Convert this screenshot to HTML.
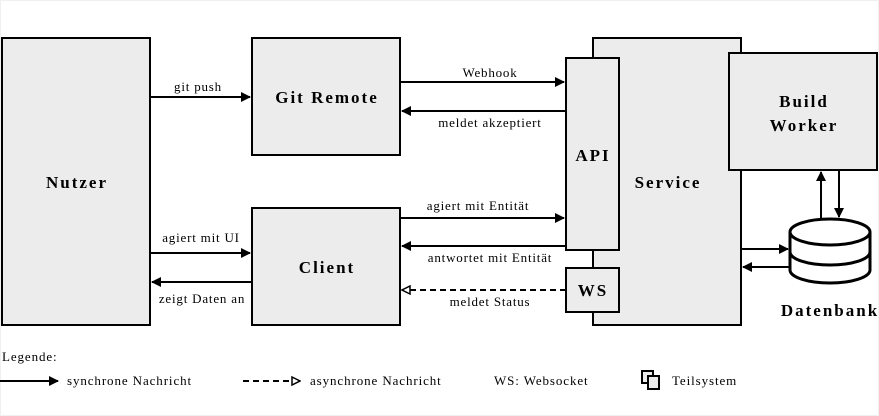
<!DOCTYPE html>
<html><head><meta charset="utf-8"><style>
html,body{margin:0;padding:0;background:#fff;}
svg{display:block;font-family:"Liberation Serif",serif;}
.b{fill:#ececec;stroke:#000;stroke-width:2;}
.t{font-weight:bold;font-size:17px;letter-spacing:2px;text-anchor:middle;}
.l{font-size:13px;letter-spacing:0.8px;text-anchor:middle;}
.g{font-size:13px;letter-spacing:0.9px;}
.a{stroke:#000;stroke-width:2;fill:none;}
</style></head><body>
<svg width="879" height="416" viewBox="0 0 879 416">
<defs>
<marker id="ar" markerWidth="10" markerHeight="10" refX="9" refY="5" orient="auto" markerUnits="userSpaceOnUse"><path d="M0,0 L10,5 L0,10 z" fill="#000"/></marker>
<marker id="ao" markerWidth="10" markerHeight="10" refX="9" refY="5" orient="auto" markerUnits="userSpaceOnUse"><path d="M1,1 L9,5 L1,9 z" fill="#fff" stroke="#000" stroke-width="1.5"/></marker>
</defs>
<rect x="0.5" y="0.5" width="878" height="415" fill="none" stroke="#f0f0f0"/>
<rect class="b" x="2" y="38" width="148" height="287"/>
<text class="t" x="77" y="188">Nutzer</text>
<rect class="b" x="252" y="38" width="148" height="117"/>
<text class="t" x="327" y="103">Git Remote</text>
<rect class="b" x="252" y="208" width="148" height="117"/>
<text class="t" x="327" y="273">Client</text>
<rect class="b" x="593" y="38" width="148" height="287"/>
<text class="t" x="668" y="188">Service</text>
<rect class="b" x="566" y="58" width="53" height="192"/>
<text class="t" x="593" y="161">API</text>
<rect class="b" x="566" y="268" width="53" height="44"/>
<text class="t" x="593" y="296">WS</text>
<rect class="b" x="729" y="53" width="148" height="117"/>
<text class="t" x="804" y="107">Build</text>
<text class="t" x="804" y="131">Worker</text>
<g stroke="#000" stroke-width="3" fill="#fff">
<path d="M790,232 L790,270 A40,13 0 0 0 870,270 L870,232"/>
<path d="M790,252 A40,13 0 0 0 870,252" fill="none"/>
<ellipse cx="830" cy="232" rx="40" ry="13"/>
</g>
<text class="t" x="830" y="316">Datenbank</text>
<line class="a" x1="150" y1="97" x2="250" y2="97" marker-end="url(#ar)"/>
<text class="l" x="198" y="91">git push</text>
<line class="a" x1="400" y1="82" x2="564" y2="82" marker-end="url(#ar)"/>
<text class="l" x="490" y="77">Webhook</text>
<line class="a" x1="566" y1="111" x2="402" y2="111" marker-end="url(#ar)"/>
<text class="l" x="490" y="127">meldet akzeptiert</text>
<line class="a" x1="400" y1="218" x2="564" y2="218" marker-end="url(#ar)"/>
<text class="l" x="478" y="210">agiert mit Entität</text>
<line class="a" x1="566" y1="246" x2="402" y2="246" marker-end="url(#ar)"/>
<text class="l" x="490" y="262">antwortet mit Entität</text>
<line class="a" x1="566" y1="290" x2="402" y2="290" stroke-dasharray="6,4" marker-end="url(#ao)"/>
<text class="l" x="490" y="306">meldet Status</text>
<line class="a" x1="150" y1="253" x2="250" y2="253" marker-end="url(#ar)"/>
<text class="l" x="201" y="242">agiert mit UI</text>
<line class="a" x1="252" y1="282" x2="152" y2="282" marker-end="url(#ar)"/>
<text class="l" x="202" y="303">zeigt Daten an</text>
<line class="a" x1="741" y1="249" x2="788" y2="249" marker-end="url(#ar)"/>
<line class="a" x1="790" y1="267" x2="743" y2="267" marker-end="url(#ar)"/>
<line class="a" x1="821" y1="219" x2="821" y2="172" marker-end="url(#ar)"/>
<line class="a" x1="839" y1="170" x2="839" y2="217" marker-end="url(#ar)"/>
<text x="2" y="361" class="g">Legende:</text>
<line class="a" x1="0" y1="381" x2="58" y2="381" marker-end="url(#ar)"/>
<text x="67" y="385" class="g">synchrone Nachricht</text>
<line class="a" x1="243" y1="381" x2="300" y2="381" stroke-dasharray="6,4" marker-end="url(#ao)"/>
<text x="310" y="385" class="g">asynchrone Nachricht</text>
<text x="494" y="385" class="g">WS: Websocket</text>
<rect class="b" x="642" y="371" width="11" height="12" stroke-width="1.5"/>
<rect class="b" x="648" y="376" width="11" height="13" stroke-width="1.5"/>
<text x="672" y="385" class="g">Teilsystem</text>
</svg>
</body></html>
